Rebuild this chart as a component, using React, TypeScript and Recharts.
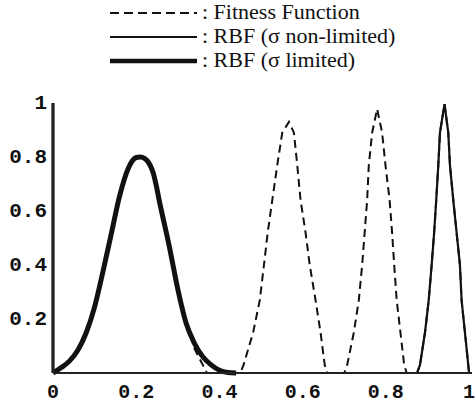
import React from "react";
import { LineChart, Line, XAxis, YAxis, ReferenceLine } from "recharts";

// Fitness function (dashed): x positions and values
const fitnessX = [
  0, 0.02, 0.04, 0.06, 0.08, 0.1, 0.12, 0.14, 0.16, 0.18, 0.2, 0.21, 0.22, 0.24, 0.26, 0.28, 0.3, 0.32, 0.34, 0.36, 0.37,
  0.45, 0.458, 0.481, 0.497, 0.507, 0.516, 0.527, 0.539, 0.551, 0.567, 0.579, 0.587, 0.595, 0.607, 0.617, 0.631, 0.643, 0.653, 0.66,
  0.7, 0.707, 0.723, 0.735, 0.743, 0.749, 0.755, 0.759, 0.767, 0.779, 0.791, 0.799, 0.809, 0.815, 0.82, 0.826, 0.835, 0.844, 0.85,
  0.875, 0.882, 0.894, 0.903, 0.91, 0.916, 0.921, 0.926, 0.93, 0.941, 0.95, 0.954, 0.962, 0.97, 0.978, 0.982, 0.99, 0.998, 1.0,
];
const fitnessY = [
  0, 0.02, 0.045, 0.085, 0.15, 0.245, 0.375, 0.515, 0.655, 0.755, 0.798, 0.8, 0.795, 0.745, 0.605, 0.465, 0.31, 0.184, 0.09, 0.03, 0,
  0, 0.03, 0.15, 0.27, 0.4, 0.52, 0.64, 0.77, 0.89, 0.93, 0.89, 0.77, 0.64, 0.52, 0.4, 0.27, 0.15, 0.03, 0,
  0, 0.03, 0.15, 0.27, 0.4, 0.52, 0.64, 0.77, 0.89, 0.978, 0.89, 0.77, 0.64, 0.52, 0.4, 0.27, 0.15, 0.03, 0,
  0, 0.03, 0.15, 0.27, 0.4, 0.52, 0.64, 0.77, 0.89, 0.996, 0.89, 0.77, 0.64, 0.52, 0.4, 0.27, 0.15, 0.03, 0,
];

// RBF (sigma non-limited): thin solid
const rbfNonLimitedX = [0.86, 0.875, 0.882, 0.894, 0.903, 0.91, 0.916, 0.921, 0.926, 0.93, 0.941, 0.95, 0.954, 0.962, 0.97, 0.978, 0.982, 0.99, 0.998, 1.0];
const rbfNonLimitedY = [0, 0, 0.03, 0.15, 0.27, 0.4, 0.52, 0.64, 0.77, 0.89, 0.996, 0.89, 0.77, 0.64, 0.52, 0.4, 0.27, 0.15, 0.03, 0];

// RBF (sigma limited): thick solid
const rbfLimitedX = [0, 0.02, 0.04, 0.06, 0.08, 0.1, 0.12, 0.14, 0.16, 0.18, 0.2, 0.21, 0.22, 0.24, 0.26, 0.28, 0.3, 0.32, 0.34, 0.36, 0.38, 0.4, 0.42, 0.44];
const rbfLimitedY = [0, 0.02, 0.045, 0.085, 0.15, 0.245, 0.375, 0.515, 0.655, 0.755, 0.798, 0.8, 0.795, 0.745, 0.605, 0.465, 0.31, 0.184, 0.11, 0.06, 0.03, 0.01, 0.002, 0];

const xTicks = [0, 0.2, 0.4, 0.6, 0.8, 1];
const yTicks = [0.2, 0.4, 0.6, 0.8, 1];
const legendLabels = [": Fitness Function", ": RBF (\u03c3 non-limited)", ": RBF (\u03c3 limited)"];

const zip = (xs: number[], ys: number[]) => xs.map((x, i) => ({ x, y: ys[i] }));
const fitnessData = zip(fitnessX, fitnessY);
const nonLimitedData = zip(rbfNonLimitedX, rbfNonLimitedY);
const limitedData = zip(rbfLimitedX, rbfLimitedY);

const tickFont = "'Liberation Mono', 'Courier New', monospace";
const axisColor = "#222222";

const YTick = (props: any) => {
  const { x, y, payload } = props;
  return (
    <text x={x - 6} y={y + 6} textAnchor="end" fontFamily={tickFont} fontWeight="bold" fontSize={21} fill="#111">
      {String(payload.value)}
    </text>
  );
};

const XTick = (props: any) => {
  const { x, y, payload } = props;
  return (
    <text x={x} y={y + 25} textAnchor="middle" fontFamily={tickFont} fontWeight="bold" fontSize={20} fill="#111">
      {String(payload.value)}
    </text>
  );
};

export default function App() {
  const rows = [
    { dash: "9 5", w: 2.2 },
    { dash: undefined, w: 2 },
    { dash: undefined, w: 4.5 },
  ];
  const baselines = [19, 43, 67];
  return (
    <div style={{ position: "absolute", left: 0, top: 0, width: 475, height: 406, background: "#fff", overflow: "hidden" }}>
      <svg width={475} height={80} style={{ position: "absolute", left: 0, top: 0 }}>
        {rows.map((r, i) => (
          <g key={i}>
            <line x1={110} x2={197} y1={baselines[i] - 6} y2={baselines[i] - 6} stroke="#111" strokeWidth={r.w} strokeDasharray={r.dash} />
            <text x={202} y={baselines[i]} fontFamily="'Liberation Serif', 'Times New Roman', serif" fontSize={22} fill="#111">
              {legendLabels[i]}
            </text>
          </g>
        ))}
      </svg>
      <div style={{ position: "absolute", left: 0, top: 0 }}>
        <LineChart width={475} height={406} margin={{ top: 103, right: 3, bottom: 0, left: 0 }}>
          <XAxis
            type="number"
            dataKey="x"
            domain={[0, 1.007]}
            ticks={xTicks}
            allowDataOverflow
            height={33}
            stroke={axisColor}
            tickLine={false}
            tickSize={0}
            tickMargin={0}
            axisLine={{ stroke: axisColor, strokeWidth: 2 }}
            tick={<XTick />}
          />
          <YAxis
            type="number"
            domain={[0, 1]}
            ticks={yTicks}
            width={53}
            stroke={axisColor}
            axisLine={{ stroke: axisColor, strokeWidth: 3 }}
            tickLine={false}
            tickSize={0}
            tickMargin={0}
            tick={<YTick />}
          />
          <ReferenceLine x={0} stroke={axisColor} strokeWidth={2.5} />
          <Line data={fitnessData} dataKey="y" type="linear" stroke="#111" strokeWidth={2} strokeDasharray="8 5" dot={false} isAnimationActive={false} />
          <Line data={nonLimitedData} dataKey="y" type="linear" stroke="#111" strokeWidth={2.2} dot={false} isAnimationActive={false} />
          <Line data={limitedData} dataKey="y" type="monotone" stroke="#111" strokeWidth={5} dot={false} isAnimationActive={false} />
        </LineChart>
      </div>
    </div>
  );
}
